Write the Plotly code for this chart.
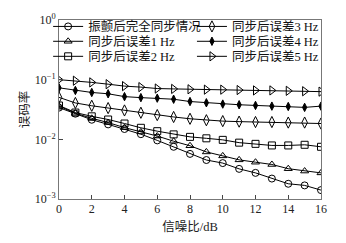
import plotly.graph_objects as go

snr = list(range(17))
names = ["振颤后完全同步情况", "同步后误差1 Hz", "同步后误差2 Hz", "同步后误差3 Hz", "同步后误差4 Hz", "同步后误差5 Hz"]
ber_sync = [0.034, 0.0269, 0.0213, 0.0178, 0.0149, 0.0122, 0.0096, 0.0075, 0.0057, 0.0045, 0.0040, 0.0032, 0.00274, 0.0022, 0.0018, 0.00169, 0.00141]
ber_1hz = [0.0359, 0.0274, 0.0225, 0.0191, 0.0157, 0.0133, 0.01135, 0.0093, 0.0078, 0.00615, 0.00528, 0.00453, 0.00414, 0.00379, 0.00322, 0.00294, 0.00274]
ber_2hz = [0.0369, 0.0281, 0.0243, 0.0215, 0.0184, 0.0156, 0.0137, 0.0121, 0.011, 0.0104, 0.0098, 0.0088, 0.0084, 0.0079, 0.0079, 0.0081, 0.0075]
ber_3hz = [0.0505, 0.0407, 0.0365, 0.0334, 0.0305, 0.0279, 0.0255, 0.0237, 0.0221, 0.0209, 0.0202, 0.0198, 0.0195, 0.0195, 0.0191, 0.0191, 0.0184]
ber_4hz = [0.073, 0.066, 0.061, 0.058, 0.052, 0.050, 0.049, 0.047, 0.043, 0.041, 0.039, 0.038, 0.037, 0.036, 0.0355, 0.0343, 0.036]
ber_5hz = [0.1, 0.096, 0.090, 0.084, 0.078, 0.075, 0.071, 0.070, 0.069, 0.068, 0.068, 0.067, 0.066, 0.066, 0.065, 0.064, 0.063]
x_ticks = [0, 2, 4, 6, 8, 10, 12, 14, 16]
y_tickvals = [1, 0.1, 0.01, 0.001]
y_ticktext = ["10<sup>0</sup>", "10<sup>−1</sup>", "10<sup>−2</sup>", "10<sup>−3</sup>"]

series = [ber_sync, ber_1hz, ber_2hz, ber_3hz, ber_4hz, ber_5hz]
symbols = ["circle-open", "triangle-up-open", "square-open", "diamond-tall-open", "diamond-tall", "triangle-right-open"]
sizes = [7, 7, 7, 8, 6, 8]
legend_ids = ["legend", "legend2", "legend3", "legend4", "legend5", "legend6"]
# legend anchor positions (paper coords)
legend_x = [-0.0415, -0.0415, -0.0415, 0.5075, 0.5075, 0.5075]
legend_y = [0.962, 0.879, 0.795, 0.962, 0.879, 0.795]

FONT = "Liberation Serif, Times New Roman, Noto Sans CJK SC, serif"

fig = go.Figure()
for name, ys, sym, sz, lg in zip(names, series, symbols, sizes, legend_ids):
    fig.add_trace(go.Scatter(
        x=snr, y=ys, name=name, mode="lines+markers", legend=lg,
        line=dict(color="black", width=1),
        marker=dict(symbol=sym, size=sz, color="black", line=dict(color="black", width=1)),
    ))

leg_layout = {}
for lg, lx, ly in zip(legend_ids, legend_x, legend_y):
    leg_layout[lg] = dict(
        x=lx, y=ly, xanchor="left", yanchor="middle", orientation="v",
        font=dict(family=FONT, size=12.5, color="#111"),
        bgcolor="rgba(0,0,0,0)", itemwidth=30,
    )

fig.update_layout(
    width=346, height=243,
    margin=dict(l=59, r=25, t=12, b=41),
    paper_bgcolor="white", plot_bgcolor="white",
    font=dict(family=FONT, size=12, color="#222"),
    showlegend=True,
    **leg_layout,
    xaxis=dict(
        range=[0, 16], tickvals=x_ticks, ticks="inside", ticklen=4,
        ticklabelstandoff=-1,
        showline=True, linecolor="#777", linewidth=1, mirror=True,
        showgrid=False, zeroline=False,
        title=dict(text="信噪比/dB", standoff=6, font=dict(family=FONT, size=12.5)),
        tickfont=dict(family=FONT, size=12),
    ),
    yaxis=dict(
        type="log", range=[-3, 0], tickvals=y_tickvals, ticktext=y_ticktext,
        ticks="inside", ticklen=4,
        showline=True, linecolor="#777", linewidth=1, mirror=True,
        showgrid=False, zeroline=False,
        title=dict(text="误码率", standoff=2, font=dict(family=FONT, size=12.5)),
        tickfont=dict(family=FONT, size=12),
    ),
)

fig.write_html("out.html", config={"displayModeBar": False},
               post_script="document.body.style.margin='0';")
